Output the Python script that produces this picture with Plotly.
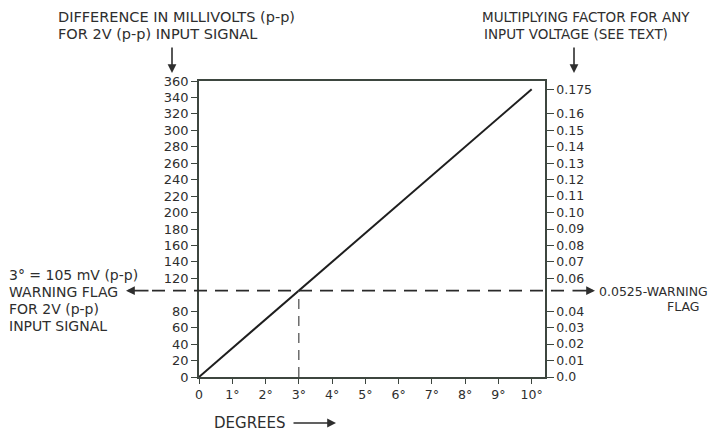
import plotly.graph_objects as go

# Calibration line: phase difference in degrees vs. millivolt difference
degrees = [0, 10]
millivolts = [0, 350]

# Warning flag point
flag_deg = 3
flag_mv = 105

# Axis ticks
x_ticks = [0, 1, 2, 3, 4, 5, 6, 7, 8, 9, 10]
x_labels = ["0", "1°", "2°", "3°", "4°", "5°", "6°", "7°", "8°", "9°", "10°"]
mv_ticks = [0, 20, 40, 60, 80, 120, 140, 160, 180, 200, 220, 240, 260, 280, 300, 320, 340, 360]
factor_ticks = [0.0, 0.01, 0.02, 0.03, 0.04, 0.06, 0.07, 0.08, 0.09, 0.10,
                0.11, 0.12, 0.13, 0.14, 0.15, 0.16, 0.175]
factor_labels = ["0.0", "0.01", "0.02", "0.03", "0.04", "0.06", "0.07", "0.08", "0.09", "0.10",
                 "0.11", "0.12", "0.13", "0.14", "0.15", "0.16", "0.175"]

# Multiplying factor = millivolts / 2000 mV input
MV_PER_UNIT = 2000.0
mv_max = 360

INK = "#2e2e2e"
AXIS = "#3d463f"
FONT = "DejaVu Sans"

W, H = 712, 435
ML, MR, MT, MB = 199, 167, 81, 58
PW, PH = W - ML - MR, H - MT - MB


def px(xpix):
    return (xpix - ML) / PW


def py(ypix):
    return (H - MB - ypix) / PH


fig = go.Figure()

fig.add_trace(go.Scatter(
    x=degrees, y=millivolts, mode="lines",
    line=dict(color="#1e1e1e", width=2),
    showlegend=False, hoverinfo="skip",
))

# invisible trace to carry the right-hand factor axis
fig.add_trace(go.Scatter(
    x=degrees, y=[v / MV_PER_UNIT for v in millivolts], yaxis="y2",
    mode="lines", line=dict(width=0), opacity=0,
    showlegend=False, hoverinfo="skip",
))

# dashed guide lines for the warning flag
fig.add_shape(type="line", xref="x", yref="y",
              x0=flag_deg, x1=flag_deg, y0=0, y1=flag_mv,
              line=dict(color="#555", width=1.3, dash="10px,7px"))
fig.add_shape(type="line", xref="paper", yref="y",
              x0=px(152), x1=px(572), y0=flag_mv, y1=flag_mv,
              line=dict(color="#2a2a2a", width=1.8, dash="13px,8px"))

annotations = []


def arrow(x, y, ax, ay, xref="paper", yref="paper"):
    annotations.append(dict(xref=xref, yref=yref, x=x, y=y, ax=ax, ay=ay,
                            text="", showarrow=True, arrowhead=2, arrowsize=1.1,
                            arrowwidth=1.6, arrowcolor=INK))


def label(text, xpix, ypix, size, xanchor="left"):
    annotations.append(dict(xref="paper", yref="paper", x=px(xpix), y=py(ypix),
                            xanchor=xanchor, yanchor="middle", align="left",
                            showarrow=False, text=text,
                            font=dict(family=FONT, size=size, color=INK)))


# outward arrows on the warning flag line
arrow(px(126), flag_mv, 24, 0, yref="y")
arrow(px(595), flag_mv, -24, 0, yref="y")

# axis headings with downward arrows
label("DIFFERENCE IN MILLIVOLTS (p-p)", 56, 17, 14.5)
label("FOR 2V (p-p) INPUT SIGNAL", 56, 34, 14.5)
label("MULTIPLYING FACTOR FOR ANY", 480, 17, 13.5)
label("INPUT VOLTAGE (SEE TEXT)", 482, 34, 13.5)
arrow(px(172), py(73), 0, -27)
arrow(px(574), py(73), 0, -27)

# warning flag notes
label("3° = 105 mV (p-p)", 7, 275, 14)
label("WARNING FLAG", 7, 292, 14)
label("FOR 2V (p-p)", 7, 309, 14)
label("INPUT SIGNAL", 7, 326, 14)
label("0.0525-WARNING", 597, 291, 12.5)
label("FLAG", 683, 306, 12.5, xanchor="center")

# x-axis caption
label("DEGREES", 212, 423, 15)
arrow(px(336), py(423), -44, 0)

fig.update_layout(
    width=W, height=H,
    margin=dict(l=ML, r=MR, t=MT, b=MB, pad=0),
    paper_bgcolor="white", plot_bgcolor="white",
    font=dict(family=FONT, color=INK),
    showlegend=False,
    annotations=annotations,
    xaxis=dict(
        range=[0, 10.4], tickmode="array", tickvals=x_ticks, ticktext=x_labels,
        showgrid=False, zeroline=False, showline=True, linecolor=AXIS, linewidth=1.5,
        mirror=True, ticks="outside", ticklen=5, tickwidth=1.3, tickcolor=AXIS,
        tickfont=dict(family=FONT, size=12.5, color=INK),
    ),
    yaxis=dict(
        range=[0, mv_max], tickmode="array", tickvals=mv_ticks,
        showgrid=False, zeroline=False, showline=True, linecolor=AXIS, linewidth=1.5,
        ticks="outside", ticklen=6, tickwidth=1.3, tickcolor=AXIS,
        tickfont=dict(family=FONT, size=13, color=INK),
    ),
    yaxis2=dict(
        range=[0, mv_max / MV_PER_UNIT], overlaying="y", side="right",
        tickmode="array", tickvals=factor_ticks, ticktext=factor_labels,
        showgrid=False, zeroline=False, showline=True, linecolor=AXIS, linewidth=1.5,
        ticks="outside", ticklen=7, tickwidth=1.3, tickcolor=AXIS,
        tickfont=dict(family=FONT, size=12.5, color=INK),
    ),
)

fig.write_html("out.html")
